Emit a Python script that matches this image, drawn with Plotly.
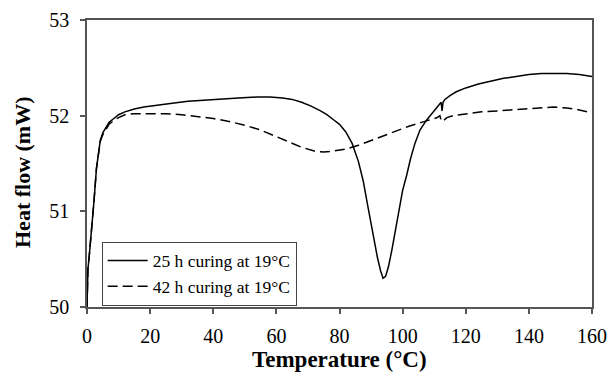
import plotly.graph_objects as go

# 25 h curing at 19°C
t25 = [0, 0.3, 0.7, 1.5, 2.2, 3.0, 3.6, 4.2, 5, 6, 7, 8.5, 10, 12, 15, 18, 22, 27, 32, 36, 42, 48, 54, 58,
       62, 65, 68, 71, 74, 76, 78, 80, 82, 84, 86, 87.5, 89, 90.5, 92, 93, 93.8, 94.6, 95.5, 96.5, 97.5,
       98.6, 100, 101.3, 102.5, 103.9, 105.5, 107.5, 109.5, 111, 112.2, 112.5, 112.8, 113.4, 115, 117,
       120, 124, 128, 132, 136, 140, 144, 148, 152, 156, 160]
hf25 = [50.0, 50.4, 50.53, 50.8, 51.1, 51.45, 51.62, 51.74, 51.82, 51.88, 51.93, 51.97, 52.01, 52.04, 52.07,
        52.09, 52.11, 52.13, 52.15, 52.16, 52.175, 52.185, 52.195, 52.195, 52.185, 52.17, 52.14, 52.10,
        52.05, 52.01, 51.96, 51.91, 51.83, 51.71, 51.52, 51.32, 51.05, 50.78, 50.52, 50.38, 50.30, 50.32,
        50.42, 50.58, 50.77, 50.98, 51.22, 51.38, 51.55, 51.71, 51.85, 51.95, 52.03, 52.09, 52.14, 52.05,
        52.14, 52.17, 52.21, 52.25, 52.29, 52.33, 52.36, 52.39, 52.41, 52.43, 52.44, 52.44, 52.44, 52.43,
        52.41]

# 42 h curing at 19°C
t42 = [0, 0.3, 0.7, 1.5, 2.2, 3.0, 3.6, 4.2, 5, 6, 7, 8.5, 10, 12, 15, 20, 25, 30, 35, 40, 45, 50, 55, 60,
       64, 68, 72, 75, 78, 82, 86, 90, 94, 98, 102, 106, 109, 111, 111.8, 112.3, 113, 114, 116, 120, 125,
       130, 135, 140, 145, 148, 152, 156, 160]
hf42 = [50.0, 50.4, 50.53, 50.8, 51.1, 51.45, 51.62, 51.73, 51.8, 51.86, 51.91, 51.95, 51.98, 52.01, 52.02,
        52.02, 52.02, 52.01, 51.99, 51.97, 51.94, 51.9, 51.85, 51.78, 51.72, 51.67, 51.63, 51.62, 51.63,
        51.65, 51.69, 51.74, 51.79, 51.84, 51.89, 51.93, 51.96, 51.98, 52.0, 51.94, 51.95, 51.98, 52.0,
        52.02, 52.04, 52.05, 52.06, 52.07, 52.08, 52.09, 52.08, 52.06, 52.03]

x_ticks = [0, 20, 40, 60, 80, 100, 120, 140, 160]
y_ticks = [50, 51, 52, 53]

FONT = "Times New Roman, Liberation Serif, serif"
AX = "#555555"
TICKFONT = dict(family=FONT, size=20, color="black")

fig = go.Figure()
fig.add_trace(go.Scatter(x=t25, y=hf25, mode="lines", name="25 h curing at 19°C",
                         line=dict(color="black", width=1.5)))
fig.add_trace(go.Scatter(x=t42, y=hf42, mode="lines", name="42 h curing at 19°C",
                         line=dict(color="black", width=1.5, dash="10px,5px")))

fig.update_layout(
    template="none",
    width=611, height=375,
    margin=dict(l=87, r=19, t=20, b=68),
    paper_bgcolor="white", plot_bgcolor="white",
    font=dict(family=FONT, size=19, color="black"),
    showlegend=True,
    legend=dict(x=0.029, y=0.2275, xanchor="left", yanchor="top",
                bgcolor="white", bordercolor="#444444", borderwidth=1,
                font=dict(family=FONT, size=17.5, color="black"),
                tracegroupgap=0, itemwidth=40),
    xaxis=dict(range=[0, 160], tickvals=x_ticks, ticktext=[str(v) for v in x_ticks],
               tickfont=TICKFONT,
               showgrid=False, zeroline=False, showline=True, linecolor=AX, linewidth=1.5,
               mirror=True, ticks="outside", ticklen=5, tickcolor=AX, tickwidth=1.5,
               ticklabelstandoff=5),
    yaxis=dict(range=[50, 53], tickvals=y_ticks, ticktext=[str(v) for v in y_ticks],
               tickfont=TICKFONT,
               showgrid=False, zeroline=False, showline=True, linecolor=AX, linewidth=1.5,
               mirror=True, ticks="outside", ticklen=5, tickcolor=AX, tickwidth=1.5,
               ticklabelstandoff=7),
    annotations=[
        dict(text="<b>Temperature (°C)</b>", xref="paper", yref="paper",
             x=(339 - 87) / 505, y=-(359 - 307) / 287, xanchor="center", yanchor="middle",
             showarrow=False, font=dict(family=FONT, size=23, color="black")),
        dict(text="<b>Heat flow (mW)</b>", xref="paper", yref="paper",
             x=-(87 - 22) / 505, y=(307 - 172) / 287, xanchor="center", yanchor="middle",
             textangle=-90, showarrow=False, font=dict(family=FONT, size=22, color="black")),
    ],
)

fig.write_html("out.html")
